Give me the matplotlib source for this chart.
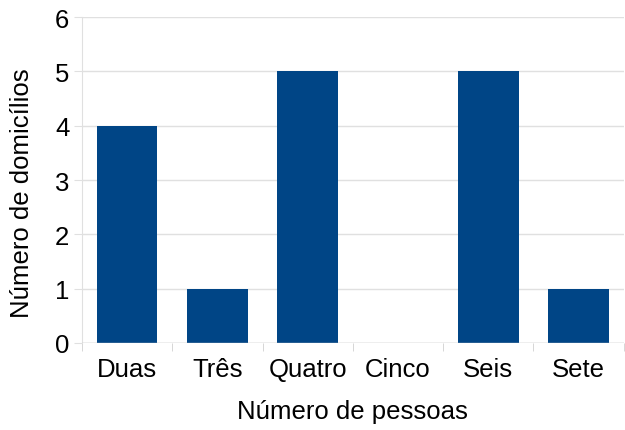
import numpy as np
import matplotlib.pyplot as plt

plt.rcParams['font.family'] = ['Liberation Sans', 'DejaVu Sans']

categorias = ['Duas', 'Três', 'Quatro', 'Cinco', 'Seis', 'Sete']
domicilios = [4, 1, 5, 0, 5, 1]

fig = plt.figure(figsize=(6.25, 4.31), dpi=100)
ax = fig.add_axes([0.131, 0.202, 0.867, 0.756])

x = np.arange(len(categorias))
ax.bar(x, domicilios, width=0.67, color='#004586', zorder=3)

ax.set_xlim(-0.5, len(categorias) - 0.5)
ax.set_ylim(0, 6)
ax.set_yticks(range(0, 7))
ax.set_xticks(x)
ax.set_xticklabels(categorias)
ax.set_xticks(np.arange(-0.5, len(categorias)), minor=True)

ax.grid(axis='y', color='#e0e0e0', linewidth=1, zorder=0)
for s in ['top', 'right', 'bottom']:
    ax.spines[s].set_visible(False)
ax.spines['left'].set_color('#e0e0e0')
ax.axhline(0, color='#c8c8c8', linewidth=1, zorder=4)

fs = 18.5
ax.tick_params(axis='y', length=6, color='#e0e0e0', labelsize=fs, pad=3)
ax.tick_params(axis='x', which='major', length=0, labelsize=fs, pad=10)
ax.tick_params(axis='x', which='minor', length=6, color='#d0d0d0')

ax.set_xlabel('Número de pessoas', fontsize=fs, labelpad=13)
ax.set_ylabel('Número de domicílios', fontsize=fs)
ax.yaxis.set_label_coords(-0.088, 0.463)

fig.savefig('out.png', dpi=100)
